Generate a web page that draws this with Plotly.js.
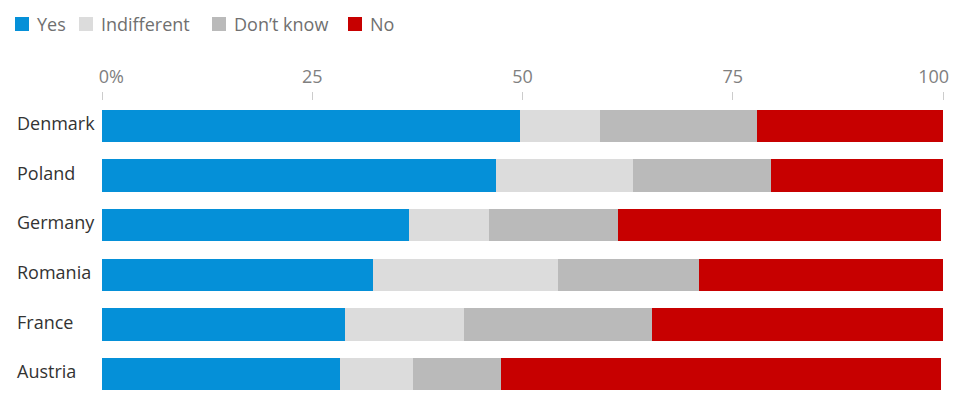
<!DOCTYPE html>
<html>
<head>
<meta charset="utf-8">
<script src="https://cdn.plot.ly/plotly-3.0.1.min.js"></script>
<style>
  html, body { margin: 0; padding: 0; background: #fff; }
  #chart { width: 980px; height: 411px; }
</style>
</head>
<body>
<div id="chart"></div>
<script>
// Survey answers by country, in percent
const countries   = ['Denmark', 'Poland', 'Germany', 'Romania', 'France', 'Austria'];
const yes         = [49.7, 46.8, 36.5, 32.2, 28.9, 28.3];
const indifferent = [9.5, 16.3, 9.5, 22.0, 14.2, 8.7];
const dontKnow    = [18.7, 16.4, 15.3, 16.8, 22.3, 10.5];
const no          = [22.1, 20.5, 38.5, 29.0, 34.6, 52.3];

const seriesNames  = ['Yes', 'Indifferent', 'Don\u2019t know', 'No'];
const seriesColors = ['#0590d8', '#dcdcdc', '#bababa', '#c70000'];
const seriesValues = [yes, indifferent, dontKnow, no];

const tickVals   = [0, 25, 50, 75, 100];
const tickLabels = ['\u00a0\u00a0\u00a0\u00a00%', '25', '50', '75', '100\u00a0\u00a0\u00a0\u00a0'];

const W = 980, H = 411;
const M = { l: 102, r: 37, t: 101, b: 12 };
const plotW = W - M.l - M.r, plotH = H - M.t - M.b;
const pxX = px => (px - M.l) / plotW;
const pxY = py => (H - M.b - py) / plotH;

const FONT = '"Open Sans", "Noto Sans", sans-serif';

const traces = seriesNames.map((name, i) => ({
  type: 'bar',
  orientation: 'h',
  name: name,
  y: countries,
  x: seriesValues[i],
  marker: { color: seriesColors[i], line: { width: 0 } },
  hoverinfo: 'name+x'
}));

// Legend row: coloured squares with labels
const legendX = [15, 79, 212, 348];
const shapes = seriesNames.map((name, i) => ({
  type: 'rect',
  xref: 'paper', yref: 'paper',
  xsizemode: 'pixel', ysizemode: 'pixel',
  xanchor: pxX(legendX[i]), yanchor: pxY(24),
  x0: 0, x1: 14, y0: -7, y1: 7,
  fillcolor: seriesColors[i],
  line: { width: 0 }
}));
const legendText = seriesNames.map((name, i) => ({
  text: name,
  xref: 'paper', yref: 'paper',
  x: pxX(legendX[i] + 20), y: pxY(24),
  xanchor: 'left', yanchor: 'middle',
  showarrow: false,
  font: { family: FONT, size: 18, color: '#707070' }
}));

// Country names, left aligned
const countryText = countries.map(c => ({
  text: c,
  xref: 'paper', yref: 'y',
  x: pxX(15), y: c,
  xanchor: 'left', yanchor: 'middle',
  yshift: 3,
  showarrow: false,
  font: { family: FONT, size: 18, color: '#333333' }
}));

const layout = {
  width: W, height: H,
  margin: M,
  paper_bgcolor: '#ffffff',
  plot_bgcolor: '#ffffff',
  barmode: 'stack',
  bargap: 0.355,
  showlegend: false,
  xaxis: {
    side: 'top',
    range: [0, 100],
    tickmode: 'array',
    tickvals: tickVals,
    ticktext: tickLabels,
    ticks: 'outside',
    ticklen: 8,
    tickwidth: 1,
    tickcolor: '#cccccc',
    ticklabelstandoff: 2,
    showgrid: false,
    zeroline: false,
    showline: false,
    fixedrange: true,
    tickfont: { family: FONT, size: 18, color: '#808080' }
  },
  yaxis: {
    type: 'category',
    autorange: 'reversed',
    showticklabels: false,
    ticks: '',
    showgrid: false,
    zeroline: false,
    showline: false,
    fixedrange: true
  },
  shapes: shapes,
  annotations: legendText.concat(countryText)
};

Plotly.newPlot('chart', traces, layout, { displayModeBar: false, staticPlot: true });
</script>
</body>
</html>
